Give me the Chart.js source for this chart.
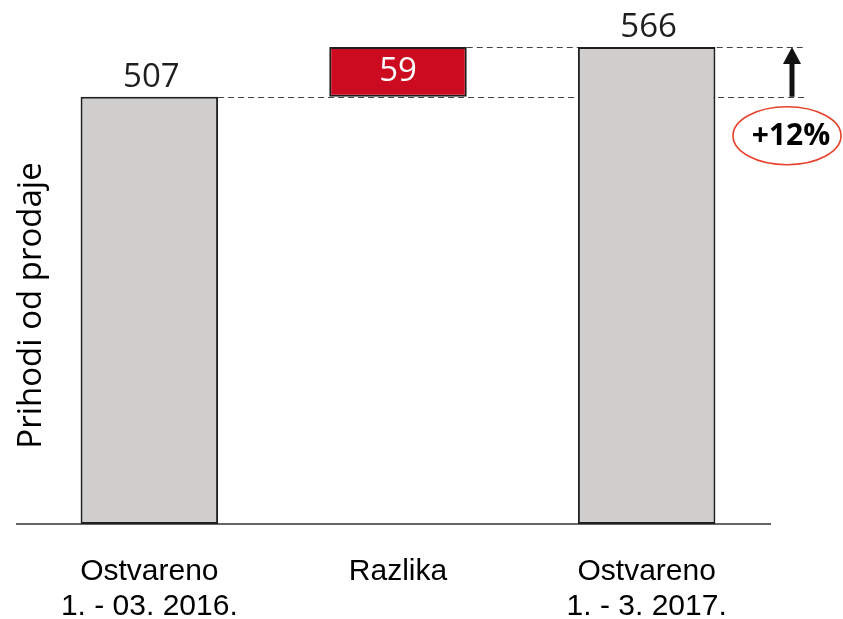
<!DOCTYPE html>
<html>
<head>
<meta charset="utf-8">
<script src="https://cdn.jsdelivr.net/npm/chart.js@4.4.1/dist/chart.umd.min.js"></script>
<style>
  html, body { margin: 0; padding: 0; background: #fff; }
  #wrap { width: 843px; height: 619px; position: relative; }
</style>
</head>
<body>
<div id="wrap"><canvas id="grafik"></canvas></div>
<script>
// podaci
const kategorije = [["Ostvareno", "1. - 03. 2016."], "Razlika", ["Ostvareno", "1. - 3. 2017."]];
const pocetak = [0, 507, 0];     // dno stupca
const kraj = [507, 566, 566];    // vrh stupca
const oznake = ["507", "59", "566"];
const boje = ["#D0CFCD", "#CC0A20", "#D0CFCD"];
const bojeOznaka = ["#1e1e1e", "#ffffff", "#1e1e1e"];
const promjena = "+12%";
const naslovY = "Prihodi od prodaje";

const vrijednosti = pocetak.map((p, i) => [p, kraj[i]]);

// crta isprekidane linije, strelicu, elipsu, naslov osi i oznake
const dodaci = {
  id: 'dodaci',
  beforeDatasetsDraw(chart) {
    const c = chart.ctx;
    const y = chart.scales.y;
    const ca = chart.chartArea;
    const bars = chart.getDatasetMeta(0).data;
    const desno = ca.right + 28;
    c.save();
    // os x
    c.strokeStyle = '#333';
    c.lineWidth = 1.5;
    c.beginPath();
    c.moveTo(ca.left - 9, y.getPixelForValue(0));
    c.lineTo(ca.right, y.getPixelForValue(0));
    c.stroke();
    // isprekidane linije
    c.strokeStyle = '#444';
    c.lineWidth = 1;
    c.setLineDash([6, 4]);
    c.beginPath();
    const y1 = Math.round(y.getPixelForValue(kraj[0])) + 0.5;
    c.moveTo(bars[0].x + bars[0].width / 2, y1);
    c.lineTo(desno + 8, y1);
    const y2 = Math.round(y.getPixelForValue(kraj[1])) + 0.5;
    c.moveTo(bars[1].x + bars[1].width / 2, y2);
    c.lineTo(desno + 6, y2);
    c.stroke();
    c.restore();
  },
  afterDatasetsDraw(chart) {
    const c = chart.ctx;
    const y = chart.scales.y;
    const ca = chart.chartArea;
    const bars = chart.getDatasetMeta(0).data;
    c.save();
    // oznake vrijednosti
    c.font = '33px "Open Sans"';
    c.textAlign = 'center';
    bars.forEach((b, i) => {
      c.fillStyle = bojeOznaka[i];
      if (i === 1) {
        c.textBaseline = 'middle';
        c.fillText(oznake[i], b.x, (y.getPixelForValue(pocetak[i]) + y.getPixelForValue(kraj[i])) / 2);
      } else {
        c.textBaseline = 'alphabetic';
        c.fillText(oznake[i], b.x + 2, y.getPixelForValue(kraj[i]) - 10);
      }
    });
    // strelica
    const ax = ca.right + 21;
    const yDno = y.getPixelForValue(kraj[0]);
    const yVrh = y.getPixelForValue(kraj[1]);
    c.strokeStyle = '#111';
    c.fillStyle = '#111';
    c.lineWidth = 5;
    c.beginPath();
    c.moveTo(ax, yDno);
    c.lineTo(ax, yVrh + 14);
    c.stroke();
    c.beginPath();
    c.moveTo(ax, yVrh);
    c.lineTo(ax - 9, yVrh + 17);
    c.lineTo(ax + 9, yVrh + 17);
    c.closePath();
    c.fill();
    // elipsa s postotkom
    const ex = ca.right + 16, ey = yDno + 39;
    c.strokeStyle = '#E8412C';
    c.lineWidth = 1.6;
    c.beginPath();
    c.ellipse(ex, ey, 54, 29, 0, 0, Math.PI * 2);
    c.stroke();
    c.fillStyle = '#000';
    c.font = 'bold 30px "Open Sans"';
    c.textBaseline = 'middle';
    c.fillText(promjena, ex + 4, ey + 1);
    // naslov osi y
    c.translate(32, (ca.top + ca.bottom) / 2 + 20);
    c.rotate(-Math.PI / 2);
    c.font = '33px "Open Sans"';
    c.fillStyle = '#000';
    c.textBaseline = 'middle';
    c.fillText(naslovY, 0, 0);
    c.restore();
  }
};

const graf = new Chart(document.getElementById('grafik').getContext('2d'), {
  type: 'bar',
  data: {
    labels: kategorije,
    datasets: [{
      data: vrijednosti,
      backgroundColor: boje,
      borderColor: '#1f1f1f',
      borderWidth: 2,
      borderSkipped: false,
      barPercentage: 0.553,
      categoryPercentage: 1
    }]
  },
  options: {
    responsive: true,
    maintainAspectRatio: false,
    animation: false,
    layout: { padding: { top: 47, left: 25, right: 72, bottom: 0 } },
    plugins: { legend: { display: false }, tooltip: { enabled: false } },
    scales: {
      x: {
        grid: { display: false, drawTicks: false },
        border: { display: false },
        ticks: {
          color: '#000',
          padding: 30,
          maxRotation: 0,
          font: { family: '"Liberation Sans", Arial, sans-serif', size: 30, lineHeight: 1.17 }
        },
        afterFit(scale) { scale.height = 95; }
      },
      y: {
        display: false,
        min: 0,
        max: 566
      }
    }
  },
  plugins: [dodaci]
});
</script>
</body>
</html>
